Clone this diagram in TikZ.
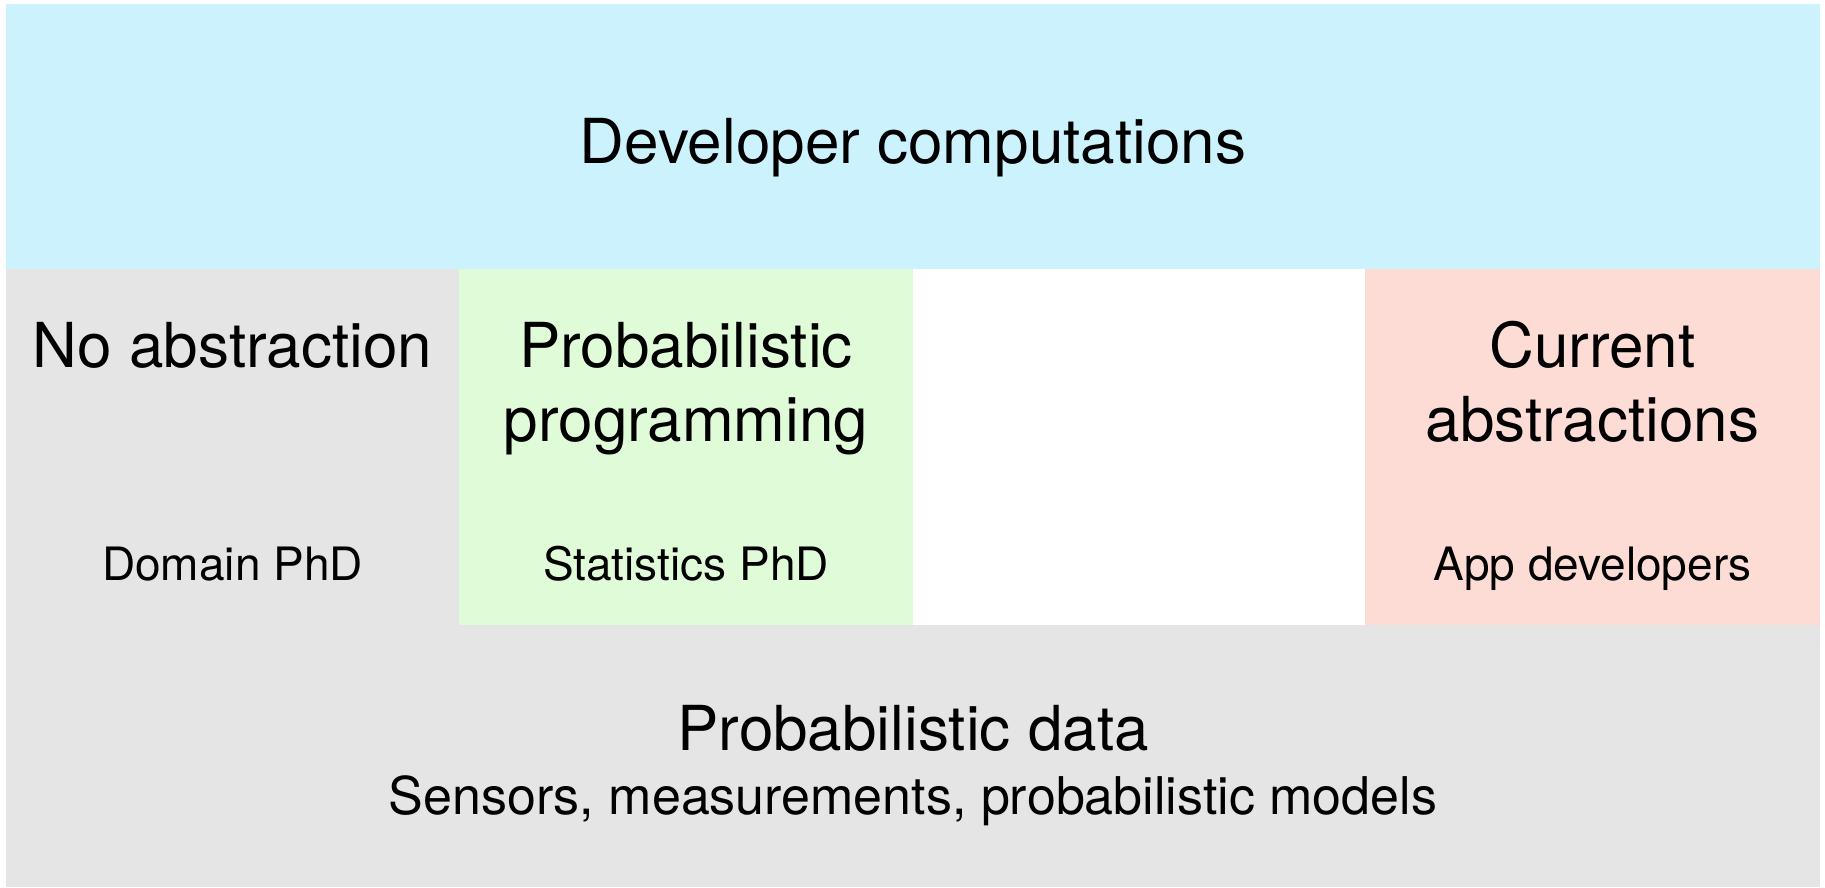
\documentclass[tikz,border=0pt]{standalone}
\usepackage{fontspec}
\setmainfont{TeX Gyre Heros}
\definecolor{devblue}{RGB}{204,242,254}
\definecolor{datagray}{RGB}{229,229,229}
\definecolor{ppgreen}{RGB}{224,251,216}
\definecolor{abspink}{RGB}{253,220,214}
\begin{document}
\begin{tikzpicture}[x=0.5pt,y=-0.5pt,
    big/.style={font=\fontsize{31}{37}\selectfont, align=center, anchor=base, inner sep=0pt},
    who/.style={font=\fontsize{23}{28}\selectfont, anchor=base, inner sep=0pt},
    sub/.style={font=\fontsize{26}{31}\selectfont, anchor=base, inner sep=0pt}]
      \useasboundingbox (0,0) rectangle (1825,888);
      % bands
      \fill[devblue] (6,4) rectangle (1820,269);
      \fill[datagray] (6,269) rectangle (459,625);
      \fill[ppgreen] (459,269) rectangle (913,625);
      \fill[abspink] (1365,269) rectangle (1820,625);
      \fill[datagray] (6,625) rectangle (1820,887);
      % labels (two-line nodes sit on their last baseline)
      \draw
        (913,163) node[big] (dev){Developer computations}
        (232.5,367) node[big] (noabs){No abstraction}
        (686,441) node[big] (pp){Probabilistic\\programming}
        (1592.5,441) node[big] (cur){Current\\abstractions}
        (232.5,580) node[who] (domain){Domain PhD}
        (686,580) node[who] (stats){Statistics PhD}
        (1592.5,580) node[who] (app){App developers}
        (913,750) node[big] (data){Probabilistic data}
        (913,814) node[sub] (sensors){Sensors, measurements, probabilistic models};
    \end{tikzpicture}
\end{document}
